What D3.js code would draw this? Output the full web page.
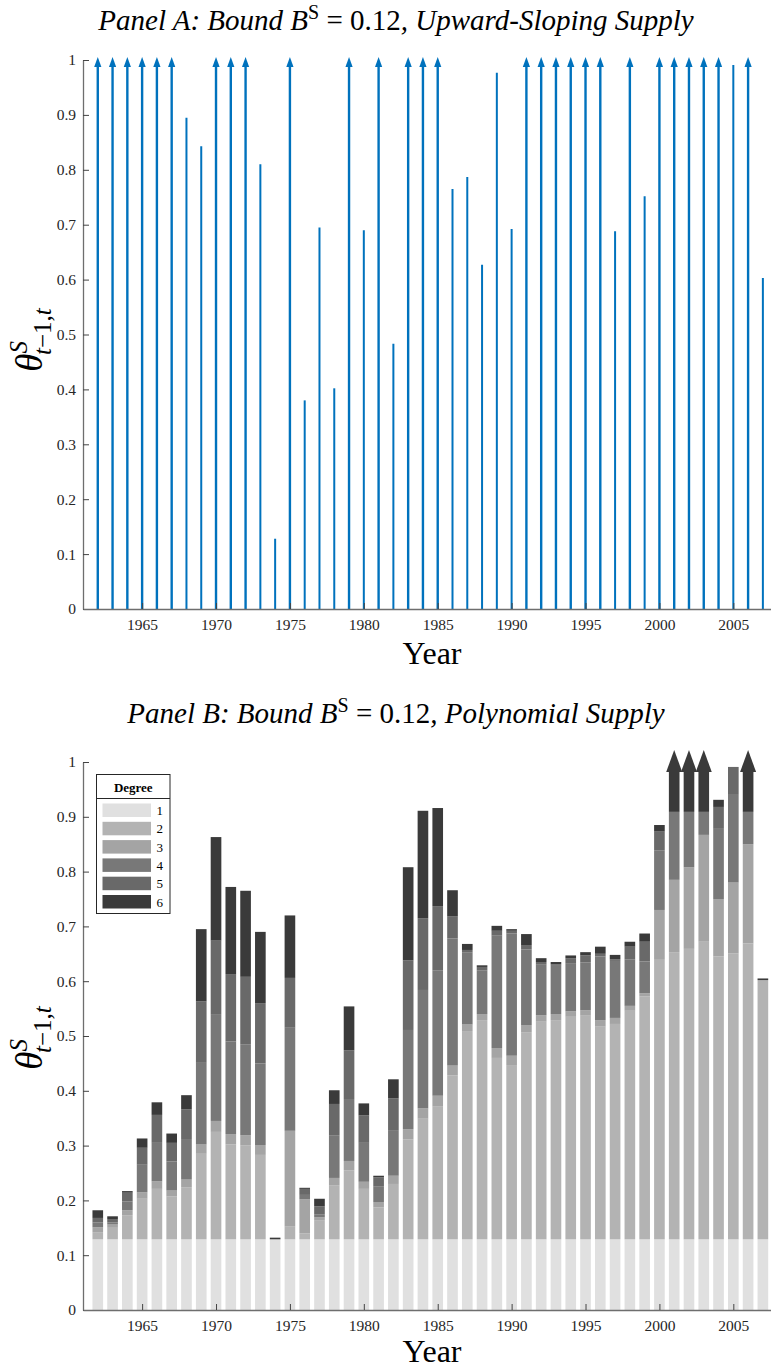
<!DOCTYPE html>
<html>
<head>
<meta charset="utf-8">
<script src="https://cdn.jsdelivr.net/npm/d3@7"></script>
<style>
  html, body { margin: 0; padding: 0; background: #fff; }
  svg { display: block; }
  text { font-family: "Liberation Serif", "Times New Roman", serif; }
</style>
</head>
<body>
<svg id="chart" width="771" height="1368"></svg>
<script>
// ---------------- DATA ----------------
const years = [1962,1963,1964,1965,1966,1967,1968,1969,1970,1971,1972,1973,1974,1975,1976,1977,1978,1979,1980,1981,1982,1983,1984,1985,1986,1987,1988,1989,1990,1991,1992,1993,1994,1995,1996,1997,1998,1999,2000,2001,2002,2003,2004,2005,2006,2007];
const xTickYears = [1965,1970,1975,1980,1985,1990,1995,2000,2005];
const yTickValues = [0,0.1,0.2,0.3,0.4,0.5,0.6,0.7,0.8,0.9,1];

// Panel A: theta (values shown at 1 with an arrow are off the scale, > 1)
const thetaA = [1,1,1,1,1,1,0.895,0.843,1,1,1,0.81,0.128,1,0.38,0.695,0.402,1,0.69,1,0.483,1,1,1,0.765,0.787,0.627,0.977,0.692,1,1,1,1,1,1,0.688,1,0.752,1,1,1,1,1,0.991,1,0.603];
const exceedsA = [1,1,1,1,1,1,0,0,1,1,1,0,0,1,0,0,0,1,0,1,0,1,1,1,0,0,0,0,0,1,1,1,1,1,1,0,1,0,1,1,1,1,1,0,1,0];

// Panel B: cumulative theta by polynomial degree (stack tops)
const degrees = ["1","2","3","4","5","6"];
const cumDeg1 = [0.129,0.129,0.129,0.129,0.129,0.129,0.129,0.129,0.129,0.129,0.129,0.129,0.129,0.129,0.129,0.129,0.129,0.129,0.129,0.129,0.129,0.129,0.129,0.129,0.129,0.129,0.129,0.129,0.129,0.129,0.129,0.129,0.129,0.129,0.129,0.129,0.129,0.129,0.129,0.129,0.129,0.129,0.129,0.129,0.129,0.129];
const cumDeg2 = [0.142,0.150,0.173,0.203,0.221,0.207,0.224,0.285,0.325,0.302,0.300,0.283,0.129,0.153,0.140,0.163,0.227,0.255,0.221,0.187,0.230,0.311,0.349,0.371,0.428,0.509,0.529,0.460,0.447,0.507,0.526,0.529,0.535,0.537,0.517,0.522,0.546,0.572,0.639,0.653,0.659,0.672,0.645,0.651,0.669,0.602];
const cumDeg3 = [0.151,0.156,0.182,0.215,0.235,0.218,0.238,0.302,0.345,0.321,0.319,0.301,0.129,0.327,0.202,0.169,0.241,0.272,0.234,0.197,0.245,0.330,0.368,0.391,0.446,0.521,0.540,0.478,0.464,0.520,0.538,0.540,0.545,0.547,0.529,0.533,0.555,0.578,0.730,0.785,0.808,0.867,0.750,0.780,0.850,0.602];
const cumDeg4 = [0.160,0.160,0.198,0.265,0.305,0.271,0.312,0.451,0.540,0.490,0.485,0.450,0.129,0.515,0.210,0.174,0.319,0.385,0.305,0.225,0.327,0.511,0.584,0.620,0.678,0.652,0.620,0.683,0.687,0.658,0.630,0.628,0.633,0.634,0.645,0.637,0.640,0.636,0.839,0.909,0.909,0.909,0.878,0.940,0.909,0.602];
const cumDeg5 = [0.168,0.166,0.214,0.296,0.356,0.305,0.366,0.563,0.674,0.613,0.608,0.560,0.129,0.606,0.221,0.189,0.376,0.474,0.355,0.242,0.386,0.638,0.715,0.737,0.718,0.657,0.626,0.692,0.692,0.666,0.635,0.631,0.642,0.647,0.650,0.640,0.663,0.672,0.873,0.909,0.909,0.909,0.918,0.991,0.909,0.602];
const cumDeg6 = [0.182,0.171,0.217,0.313,0.379,0.322,0.392,0.695,0.863,0.772,0.765,0.690,0.132,0.720,0.223,0.203,0.401,0.554,0.377,0.245,0.421,0.808,0.911,0.916,0.766,0.668,0.629,0.701,0.695,0.686,0.642,0.635,0.647,0.653,0.663,0.648,0.672,0.687,0.885,1,1,1,0.931,0.991,1,0.605];
const exceedsB = [0,0,0,0,0,0,0,0,0,0,0,0,0,0,0,0,0,0,0,0,0,0,0,0,0,0,0,0,0,0,0,0,0,0,0,0,0,0,0,1,1,1,0,0,1,0];

const degColors = ["#e0e0e0","#b3b3b3","#a4a4a4","#787878","#696969","#3a3a3a"];
const lineBlue = "#0072bd";

// ---------------- LAYOUT ----------------
const svg = d3.select("#chart");
svg.append("rect").attr("width",771).attr("height",1368).attr("fill","#fff");

const xDomain = [1961, 2008];
const plotLeft = 83, plotRight = 83 + 47*14.78;

function drawAxes(g, x, y, top, bottom) {
  const ya = d3.axisLeft(y).tickValues(yTickValues).tickSizeInner(-6).tickSizeOuter(0).tickPadding(7)
    .tickFormat(d3.format("~g"));
  const yg = g.append("g").attr("transform", `translate(${plotLeft},0)`).call(ya);
  const xa = d3.axisBottom(x).tickValues(xTickYears).tickSizeInner(-6).tickSizeOuter(0).tickPadding(10)
    .tickFormat(d3.format("d"));
  const xg = g.append("g").attr("transform", `translate(0,${bottom})`).call(xa);
  [yg, xg].forEach(a => {
    a.select(".domain").attr("stroke","#6e6e6e").attr("stroke-width",1.3);
    a.selectAll(".tick line").attr("stroke","#444").attr("stroke-width",1);
    a.selectAll(".tick text").attr("fill","#262626").attr("font-size",15.5)
      .attr("font-family","'Liberation Serif', serif");
  });
}

function title(g, cx, by, prefix, suffix) {
  const t = g.append("text").attr("x",cx).attr("y",by).attr("text-anchor","middle")
    .attr("font-size",29).attr("fill","#000");
  t.append("tspan").attr("font-style","italic").text(prefix + " ");
  t.append("tspan").attr("font-style","italic").text("B");
  t.append("tspan").attr("font-size",20).attr("dy",-11).text("S");
  t.append("tspan").attr("dy",11).text(" = 0.12");
  t.append("tspan").attr("font-style","italic").text(", " + suffix);
}

function yLabel(g, cx, cy) {
  const t = g.append("text").attr("transform",`translate(${cx},${cy}) rotate(-90)`)
    .attr("text-anchor","middle").attr("font-size",37).attr("fill","#000");
  t.append("tspan").attr("font-style","italic").text("θ");
  t.append("tspan").attr("font-style","italic").attr("font-size",25).attr("dy",-15).text("S");
  t.append("tspan").attr("font-size",25).attr("dx",-14).attr("dy",24)
    .html('<tspan font-style="italic">t</tspan>−1,<tspan font-style="italic">t</tspan>');
}

function xLabel(g, cx, by) {
  g.append("text").attr("x",cx).attr("y",by).attr("text-anchor","middle")
    .attr("font-size",32).attr("fill","#000").text("Year");
}

// ---------------- PANEL A ----------------
{
  const top = 60, bottom = 609;
  const g = svg.append("g");
  const x = d3.scaleLinear().domain(xDomain).range([plotLeft, plotRight]);
  const y = d3.scaleLinear().domain([0,1]).range([bottom, top]);

  title(g, 396, 30, "Panel A: Bound", "Upward-Sloping Supply");

  const dataA = years.map((yr,i) => ({year: yr, v: thetaA[i], up: exceedsA[i] === 1}));
  g.selectAll("line.stem").data(dataA).join("line").attr("class","stem")
    .attr("x1", d => x(d.year)).attr("x2", d => x(d.year))
    .attr("y1", y(0)).attr("y2", d => d.up ? y(1) + 5 : y(d.v))
    .attr("stroke", lineBlue).attr("stroke-width", d => d.up ? 2.4 : 2);
  g.selectAll("path.head").data(dataA.filter(d => d.up)).join("path").attr("class","head")
    .attr("d", d => {
      const cx = x(d.year), tip = y(1) - 3, base = y(1) + 7;
      return `M${cx},${tip} L${cx-3.6},${base} L${cx+3.6},${base} Z`;
    })
    .attr("fill", lineBlue);

  drawAxes(g, x, y, top, bottom);
  yLabel(g, 42, 340);
  xLabel(g, 432, 664);
}

// ---------------- PANEL B ----------------
{
  const top = 762, bottom = 1310;
  const g = svg.append("g");
  const x = d3.scaleLinear().domain(xDomain).range([plotLeft, plotRight]);
  const y = d3.scaleLinear().domain([0,1]).range([bottom, top]);
  const barW = 0.72 * (x(1963) - x(1962));

  title(g, 396, 723, "Panel B: Bound", "Polynomial Supply");

  const cums = [cumDeg1, cumDeg2, cumDeg3, cumDeg4, cumDeg5, cumDeg6];
  const segs = [];
  years.forEach((yr, i) => {
    let prev = 0;
    cums.forEach((arr, k) => {
      let topV = arr[i];
      if (k === 5 && exceedsB[i] === 1) topV = y.invert(y(1) + 9);
      if (topV > prev + 1e-9) segs.push({year: yr, y0: prev, y1: topV, k});
      prev = Math.max(prev, arr[i]);
    });
  });
  g.selectAll("rect.seg").data(segs).join("rect").attr("class","seg")
    .attr("x", d => x(d.year) - barW/2).attr("width", barW)
    .attr("y", d => y(d.y1)).attr("height", d => Math.max(0.8, y(d.y0) - y(d.y1)))
    .attr("fill", d => degColors[d.k]);

  const arrowsB = years.map((yr,i) => ({year: yr, up: exceedsB[i] === 1})).filter(d => d.up);
  g.selectAll("path.headB").data(arrowsB).join("path").attr("class","headB")
    .attr("d", d => {
      const cx = x(d.year), tip = y(1) - 12, base = y(1) + 10;
      return `M${cx},${tip} L${cx-8},${base} L${cx+8},${base} Z`;
    })
    .attr("fill", degColors[5]);

  drawAxes(g, x, y, top, bottom);
  yLabel(g, 42, 1038);
  xLabel(g, 432, 1362);

  // Legend
  const lg = g.append("g");
  const lx = 96.5, ly = 774.5, lw = 73.5, lh = 139;
  lg.append("rect").attr("x",lx).attr("y",ly).attr("width",lw).attr("height",lh)
    .attr("fill","#fff").attr("stroke","#262626").attr("stroke-width",1);
  lg.append("line").attr("x1",lx).attr("x2",lx+lw).attr("y1",ly+24).attr("y2",ly+24)
    .attr("stroke","#262626").attr("stroke-width",1);
  lg.append("text").attr("x",lx+lw/2).attr("y",ly+17).attr("text-anchor","middle")
    .attr("font-size",13).attr("font-weight","bold").attr("fill","#000").text("Degree");
  const rows = lg.selectAll("g.row").data(degrees).join("g").attr("class","row")
    .attr("transform", (d,i) => `translate(${lx+6},${ly + 29 + i*18.3})`);
  rows.append("rect").attr("width",48.5).attr("height",13.5).attr("fill",(d,i) => degColors[i]);
  rows.append("text").attr("x",54).attr("y",11.5).attr("font-size",13).attr("fill","#000").text(d => d);
}
</script>
</body>
</html>
